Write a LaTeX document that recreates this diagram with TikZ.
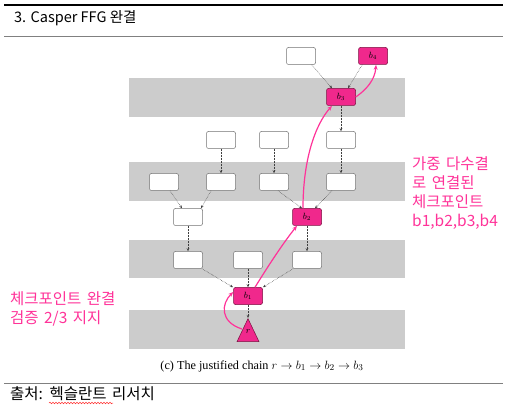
\documentclass[tikz,border=0pt]{standalone}
\usepackage{fontspec}
\newfontfamily\kr{Noto Sans CJK KR}
\setmainfont{Liberation Serif}
\usetikzlibrary{arrows.meta,shapes.geometric,decorations.pathmorphing}
\definecolor{band}{HTML}{CCCCCC}
\definecolor{pk}{HTML}{F0288C}
\definecolor{pkt}{HTML}{FF3399}
\definecolor{pkd}{HTML}{7A1040}
\newcommand\krwide{\spaceskip=0.35em plus 0.1em\relax}
\begin{document}
\begin{tikzpicture}[x=1pt,y=-1pt,
 blk/.style={draw=black!55,fill=white,rounded corners=2pt,minimum width=29pt,minimum height=17pt,inner sep=0pt,line width=0.5pt,font=\fontsize{9}{9}\selectfont},
 fblk/.style={blk,fill=pk,draw=pkd},
 dep/.style={densely dotted,draw=black!75,line width=0.5pt,-{Stealth[length=3pt,width=2.5pt]}},
 just/.style={draw=pkt,line width=1.2pt,-{Stealth[length=5pt,width=4pt]}},
 krt/.style={font=\kr\fontsize{15.5}{19}\selectfont\krwide,align=left,inner sep=0pt}]
\useasboundingbox (0,0) rectangle (508,411);
\fill[white] (0,0) rectangle (508,411);
% frame lines
\draw[line width=2.5pt] (4,5) -- (503,5);
\draw[line width=0.8pt,black!50] (4,36) -- (503,36);
\draw[line width=0.8pt,black!50] (4,383) -- (503,383);
\node[font=\kr\fontsize{14.5}{14.5}\selectfont,anchor=base west,inner sep=0pt] (title) at (14,23) {3. Casper FFG 완결};
% bands
\fill[band] (129,78) rectangle (405,117);
\fill[band] (129,162) rectangle (405,201);
\fill[band] (129,240) rectangle (405,278);
\fill[band] (129,310) rectangle (405,349);
% nodes
\node[blk] (w1) at (301,56) {};
\node[fblk] (b4) at (373,56) {$b_4$};
\node[fblk] (b3) at (341,97) {$b_3$};
\node[blk] (c1) at (221,140) {};
\node[blk] (c2) at (274,140) {};
\node[blk] (c3) at (341,140) {};
\node[blk] (d1) at (164,182) {};
\node[blk] (d2) at (221,182) {};
\node[blk] (d3) at (274,182) {};
\node[blk] (d4) at (341,182) {};
\node[blk] (e1) at (188,217) {};
\node[fblk] (b2) at (307,217) {$b_2$};
\node[blk] (f1) at (188,260) {};
\node[blk] (f2) at (248,260) {};
\node[blk] (f3) at (307,260) {};
\node[fblk] (b1) at (248,296) {$b_1$};
\node[draw=pkd,fill=pk,isosceles triangle,isosceles triangle stretches,shape border rotate=90,minimum width=22pt,minimum height=23pt,inner sep=0pt,anchor=apex,line width=0.5pt] (r) at (248,318) {};
\node[font=\fontsize{9}{9}\selectfont,inner sep=0pt] (rl) at (248,332) {$r$};
\coordinate (rs) at (242,329);
% dependency edges
\draw[dep] ([xshift=-4pt]w1.south east) -- ([xshift=-9pt]b3.north);
\draw[dep] ([xshift=4pt]b4.south west) -- ([xshift=7pt]b3.north);
\draw[dep] (b3) -- (c3);
\draw[dep] (c1) -- (d2);
\draw[dep] (c2) -- (d3);
\draw[dep] (c3) -- (d4);
\draw[dep] ([xshift=6pt]d1.south) -- ([xshift=-6pt]e1.north);
\draw[dep] ([xshift=-10pt]d2.south) -- ([xshift=13pt]e1.north);
\draw[dep] ([xshift=4pt]d3.south) -- ([xshift=-5pt]b2.north);
\draw[dep] ([xshift=-9pt]d4.south) -- ([xshift=8pt]b2.north);
\draw[dep] (e1) -- (f1);
\draw[dep] (b2) -- (f3);
\draw[dep] ([xshift=14pt]f1.south) -- ([xshift=-15pt]b1.north);
\draw[dep] (f2) -- (b1);
\draw[dep] ([xshift=-14pt]f3.south) -- ([xshift=15pt]b1.north);
\draw[dep] (b1) -- (r.apex);
% justification links
\draw[just] (rs) .. controls (220,322) and (221,304) .. ([yshift=4pt]b1.west);
\draw[just] ([xshift=7pt]b1.north) .. controls (270,263) and (284,242) .. ([xshift=-10pt]b2.south);
\draw[just] ([xshift=-4pt]b2.north) .. controls (303,160) and (315,125) .. ([xshift=-9pt]b3.south);
\draw[just] (b3.east) .. controls (366,90) and (375,80) .. ([xshift=3pt]b4.south);
% caption
\node[font=\fontsize{12.2}{12.2}\selectfont,anchor=base] (cap) at (262,369) {(c) The justified chain $r\rightarrow b_1\rightarrow b_2\rightarrow b_3$};
% annotations
\node[krt,text=pkt,anchor=north west] (ra) at (412,156) {가중 다수결\\로 연결된\\체크포인트\\b1,b2,b3,b4};
\node[krt,text=pkt,anchor=north west] (la) at (10,291) {체크포인트 완결\\검증 2/3 지지};
\node[krt,anchor=base west] (src) at (10,399) {출처: 헥슬란트 리서치};
\draw[red!80,line width=0.5pt,decorate,decoration={snake,amplitude=0.8pt,segment length=3pt}] (49,403) -- (113,403);
\end{tikzpicture}
\end{document}
